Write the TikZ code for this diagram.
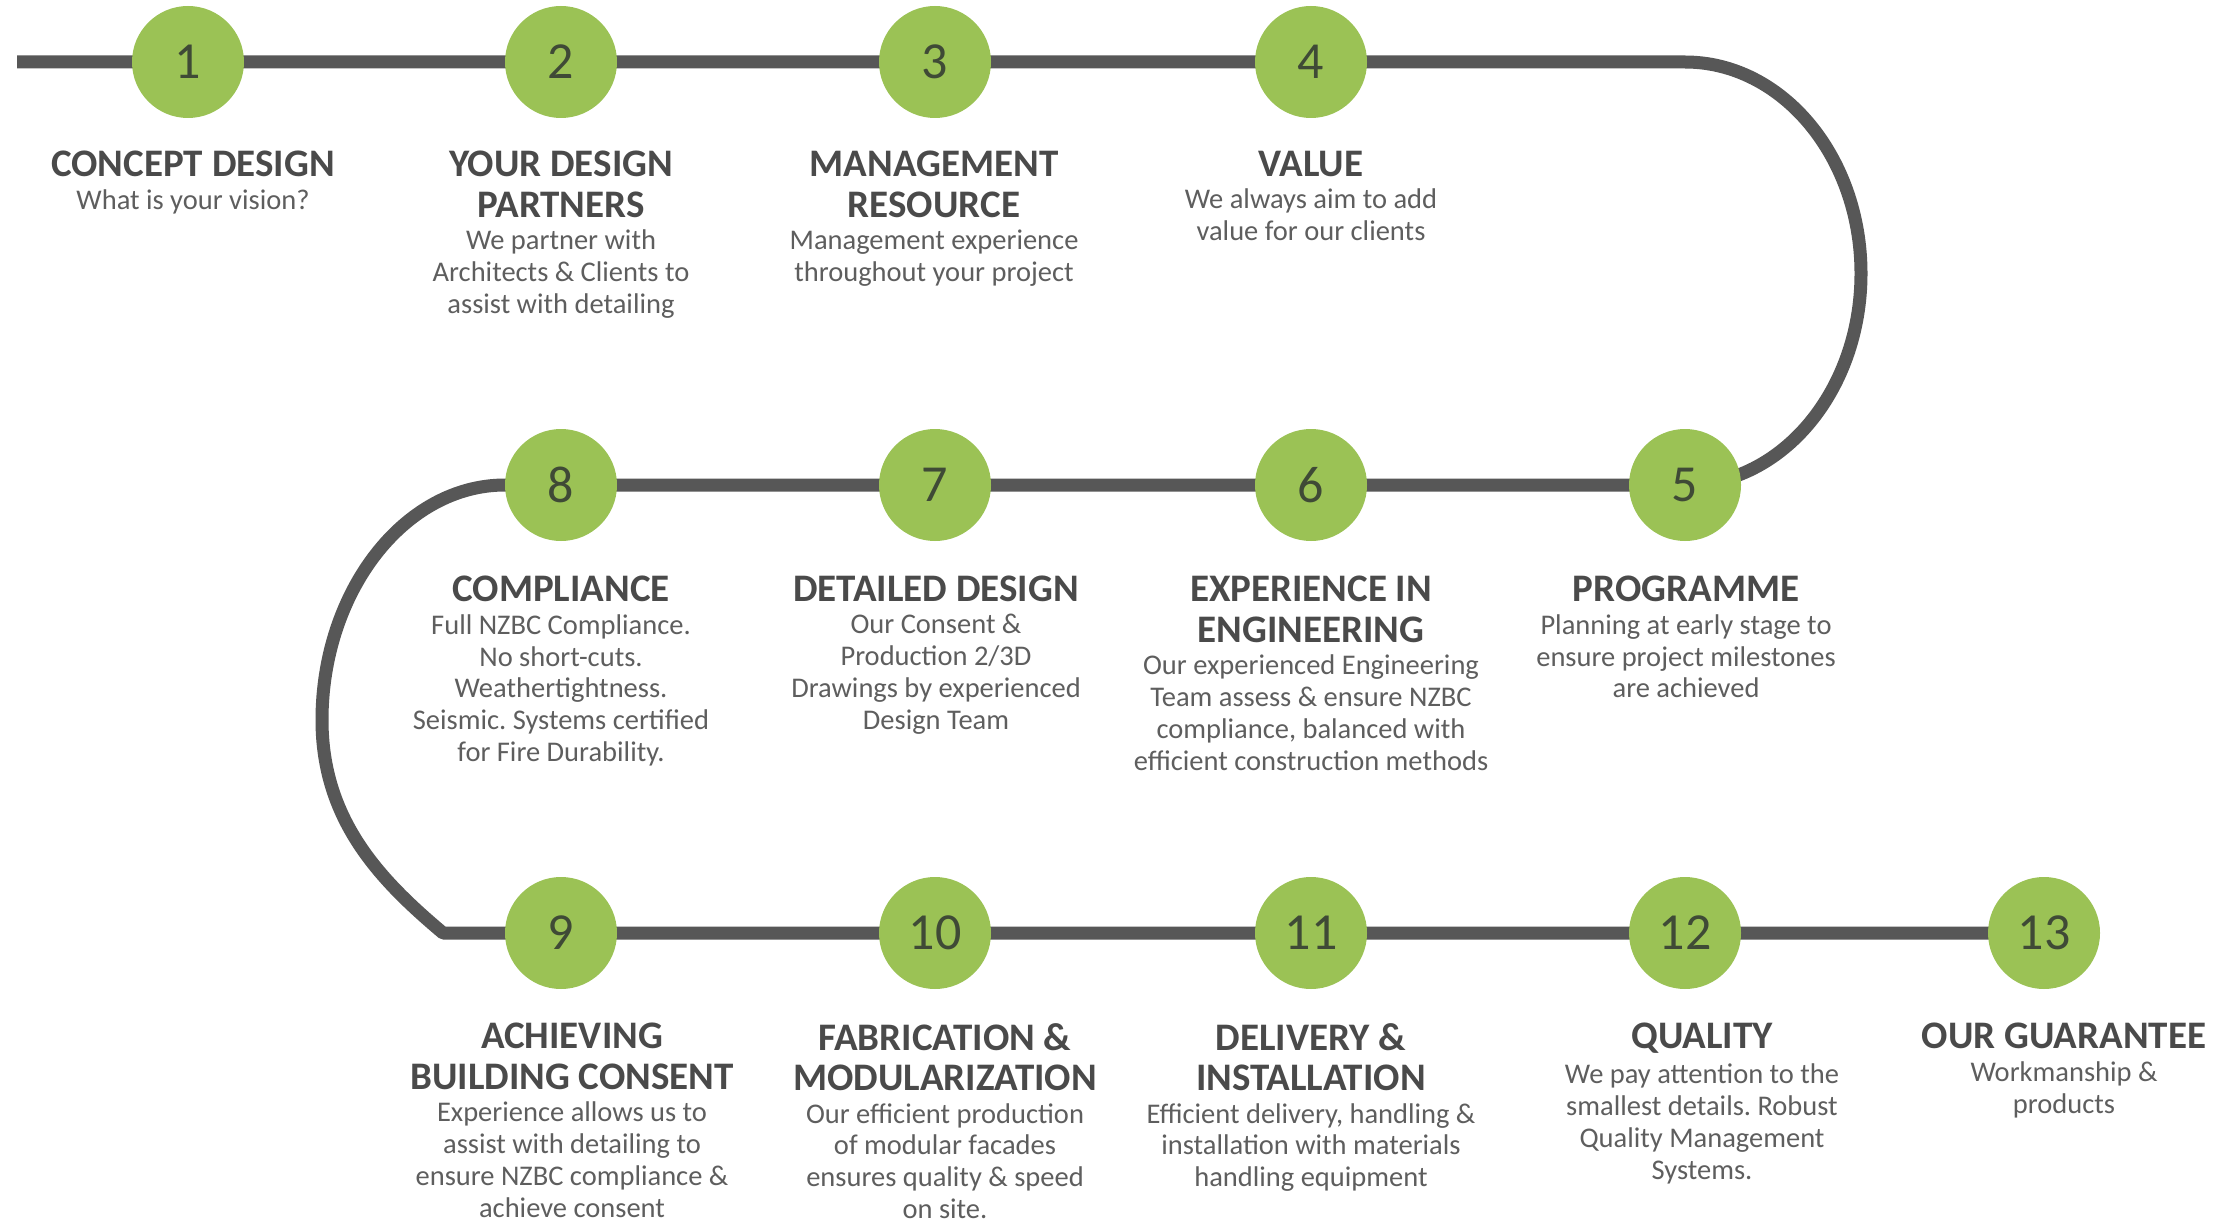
\documentclass[tikz,border=0pt]{standalone}
\usepackage{fontspec}
\setmainfont{Carlito}
\usetikzlibrary{backgrounds}
\definecolor{trackgray}{HTML}{575757}
\definecolor{stepgreen}{HTML}{9BC255}
\definecolor{numcol}{HTML}{3F4A36}
\definecolor{headcol}{HTML}{4A4A4A}
\definecolor{bodycol}{HTML}{5E5E5E}
\frenchspacing
\begin{document}
\begin{tikzpicture}[x=1pt,y=-1pt,
  stepdot/.style={circle, fill=stepgreen, minimum size=112pt, inner sep=0pt, text=numcol, font=\fontsize{52}{52}\selectfont},
  headtxt/.style={anchor=north, inner sep=0pt, align=center, text=headcol, font=\bfseries\fontsize{39}{40.5}\selectfont},
  bodytxt/.style={anchor=north, inner sep=0pt, align=center, text=bodycol, font=\fontsize{28.5}{31.8}\selectfont},
  track/.style={draw=trackgray, line width=13pt, line join=round}]
\useasboundingbox (0,0) rectangle (2215,1222);

% circles
\node[stepdot] (c1) at (188,62) {1};
\node[stepdot] (c2) at (561,62) {2};
\node[stepdot] (c3) at (935,62) {3};
\node[stepdot] (c4) at (1311,62) {4};
\node[stepdot] (c5) at (1685,485) {5};
\node[stepdot] (c6) at (1311,485) {6};
\node[stepdot] (c7) at (935,485) {7};
\node[stepdot] (c8) at (561,485) {8};
\node[stepdot] (c9) at (561,933) {9};
\node[stepdot] (c10) at (935,933) {10};
\node[stepdot] (c11) at (1311,933) {11};
\node[stepdot] (c12) at (1685,933) {12};
\node[stepdot] (c13) at (2044,933) {13};

\coordinate (start) at (17,62);
\coordinate (turnR) at (1685,62);
\coordinate (leftA) at (505,485);
\coordinate (leftB) at (322,720);
\coordinate (leftC) at (443,933);

\begin{pgfonlayer}{background}
\fill[white] (0,0) rectangle (2215,1222);
\draw[track] (start) -- (c1.center) -- (c2.center) -- (c3.center) -- (c4.center) -- (turnR)
  arc[start angle=-90, end angle=90, x radius=176, y radius=211.5] -- (c5.center)
  -- (c6.center) -- (c7.center) -- (c8.center) -- (leftA)
  .. controls (404,485) and (322,592) .. (leftB)
  .. controls (322,820) and (380,880) .. (leftC)
  -- (c9.center) -- (c10.center) -- (c11.center) -- (c12.center) -- (c13.center);
\end{pgfonlayer}

% headings
\node[headtxt] (h1) at (193,151) {CONCEPT DESIGN};
\node[headtxt] (h2) at (561,151) {YOUR DESIGN\\PARTNERS};
\node[headtxt] (h3) at (934,151) {MANAGEMENT\\RESOURCE};
\node[headtxt] (h4) at (1311,151) {VALUE};
\node[headtxt] (h5) at (1686,576) {PROGRAMME};
\node[headtxt] (h6) at (1311,576) {EXPERIENCE IN\\ENGINEERING};
\node[headtxt] (h7) at (936,576) {DETAILED DESIGN};
\node[headtxt] (h8) at (561,576) {COMPLIANCE};
\node[headtxt] (h9) at (572,1023) {ACHIEVING\\BUILDING CONSENT};
\node[headtxt] (h10) at (945,1023) {FABRICATION \&\\MODULARIZATION};
\node[headtxt] (h11) at (1311,1023) {DELIVERY \&\\INSTALLATION};
\node[headtxt] (h12) at (1702,1023) {QUALITY};
\node[headtxt] (h13) at (2064,1023) {OUR GUARANTEE};

% bodies
\node[bodytxt] (b1) at ([yshift=-12pt]h1.south) {What is your vision?};
\node[bodytxt] (b2) at ([yshift=-12pt]h2.south) {We partner with\\Architects \& Clients to\\assist with detailing};
\node[bodytxt] (b3) at ([yshift=-12pt]h3.south) {Management experience\\throughout your project};
\node[bodytxt] (b4) at ([yshift=-12pt]h4.south) {We always aim to add\\value for our clients};
\node[bodytxt] (b5) at ([yshift=-12pt]h5.south) {Planning at early stage to\\ensure project milestones\\are achieved};
\node[bodytxt] (b6) at ([yshift=-12pt]h6.south) {Our experienced Engineering\\Team assess \& ensure NZBC\\compliance, balanced with\\efficient construction methods};
\node[bodytxt] (b7) at ([yshift=-12pt]h7.south) {Our Consent \&\\Production 2/3D\\Drawings by experienced\\Design Team};
\node[bodytxt] (b8) at ([yshift=-12pt]h8.south) {Full NZBC Compliance.\\No short-cuts.\\Weathertightness.\\Seismic. Systems certified\\for Fire Durability.};
\node[bodytxt] (b9) at ([yshift=-12pt]h9.south) {Experience allows us to\\assist with detailing to\\ensure NZBC compliance \&\\achieve consent};
\node[bodytxt] (b10) at ([yshift=-12pt]h10.south) {Our efficient production\\of modular facades\\ensures quality \& speed\\on site.};
\node[bodytxt] (b11) at ([yshift=-12pt]h11.south) {Efficient delivery, handling \&\\installation with materials\\handling equipment};
\node[bodytxt] (b12) at ([yshift=-10pt]h12.south) {We pay attention to the\\smallest details. Robust\\Quality Management\\Systems.};
\node[bodytxt] (b13) at ([yshift=-12pt]h13.south) {Workmanship \&\\products};
\end{tikzpicture}
\end{document}
